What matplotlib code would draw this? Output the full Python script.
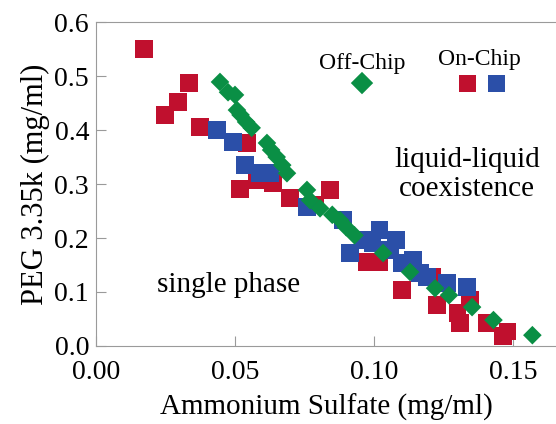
import matplotlib.pyplot as plt

plt.rcParams['font.family'] = ['Liberation Serif', 'DejaVu Serif']

# On-chip, red squares
red_x = [0.0173, 0.0335, 0.0295, 0.0248, 0.0374, 0.0543, 0.0518, 0.0579, 0.0637, 0.0698,
         0.0842, 0.0788, 0.0975, 0.1020, 0.1100, 0.1210, 0.1227, 0.1300, 0.1310, 0.1345,
         0.1406, 0.1480, 0.1465]
red_y = [0.550, 0.487, 0.452, 0.428, 0.406, 0.376, 0.291, 0.307, 0.302, 0.274,
         0.289, 0.262, 0.156, 0.156, 0.104, 0.128, 0.076, 0.061, 0.043, 0.085,
         0.043, 0.027, 0.018]

# On-chip, blue squares
blue_x = [0.0435, 0.0493, 0.0536, 0.0590, 0.0625, 0.0759, 0.0888, 0.0914, 0.0960, 0.1020,
          0.1058, 0.1080, 0.1100, 0.1140, 0.1165, 0.1190, 0.1263, 0.1335, 0.0995]
blue_y = [0.400, 0.378, 0.335, 0.320, 0.320, 0.257, 0.233, 0.172, 0.196, 0.215,
          0.178, 0.196, 0.154, 0.159, 0.135, 0.128, 0.117, 0.109, 0.190]

# Off-chip, green diamonds
green_x = [0.0446, 0.0475, 0.0500, 0.0507, 0.0520, 0.0540, 0.0560, 0.0615, 0.0630, 0.0650,
           0.0670, 0.0687, 0.0759, 0.0770, 0.0806, 0.0850, 0.0878, 0.0900, 0.0930, 0.1033,
           0.1130, 0.1220, 0.1270, 0.1353, 0.1430, 0.1570]
green_y = [0.489, 0.470, 0.465, 0.437, 0.428, 0.415, 0.404, 0.376, 0.363, 0.350,
           0.335, 0.320, 0.289, 0.270, 0.255, 0.243, 0.233, 0.220, 0.205, 0.172,
           0.137, 0.107, 0.094, 0.072, 0.048, 0.020]

red = '#C0102E'
blue = '#2B4FA8'
green = '#0A8F45'

fig = plt.figure(figsize=(5.56, 4.24), dpi=100)
ax = fig.add_axes([0.1727, 0.184, 0.8273, 0.764])

ax.scatter(red_x, red_y, marker='s', s=160, color=red, edgecolors='none', zorder=3)
ax.scatter(blue_x, blue_y, marker='s', s=160, color=blue, edgecolors='none', zorder=3)
ax.scatter(green_x, green_y, marker='D', s=90, color=green, edgecolors='none', zorder=4)

ax.set_xlim(0, 0.1655)
ax.set_ylim(0, 0.6)
ax.set_xticks([0.00, 0.05, 0.10, 0.15])
ax.set_xticklabels(['0.00', '0.05', '0.10', '0.15'])
ax.set_yticks([0.0, 0.1, 0.2, 0.3, 0.4, 0.5, 0.6])
ax.set_yticklabels(['0.0', '0.1', '0.2', '0.3', '0.4', '0.5', '0.6'])

for side in ['left', 'bottom', 'top']:
    ax.spines[side].set_color('#9a9a9a')
ax.spines['right'].set_visible(False)
ax.tick_params(direction='in', length=7, color='#9a9a9a', labelsize=20)
ax.tick_params(axis='x', pad=10)
ax.tick_params(axis='y', pad=5)

ax.set_xlabel('Ammonium Sulfate (mg/ml)', fontsize=21, labelpad=6)
ax.set_ylabel('PEG 3.35k (mg/ml)', fontsize=22, labelpad=3)

ax.text(0.0957, 0.524, 'Off-Chip', fontsize=17, ha='center', va='center')
ax.scatter([0.0957], [0.487], marker='D', s=130, color=green, edgecolors='none', clip_on=False)
ax.text(0.1380, 0.530, 'On-Chip', fontsize=17, ha='center', va='center')
ax.scatter([0.1338], [0.487], marker='s', s=150, color=red, edgecolors='none')
ax.scatter([0.1442], [0.487], marker='s', s=150, color=blue, edgecolors='none')

ax.text(0.1335, 0.317, 'liquid-liquid\ncoexistence', fontsize=21, ha='center', va='center',
        linespacing=1.15)
ax.text(0.0478, 0.113, 'single phase', fontsize=21, ha='center', va='center')

fig.savefig('out.png', dpi=100)
